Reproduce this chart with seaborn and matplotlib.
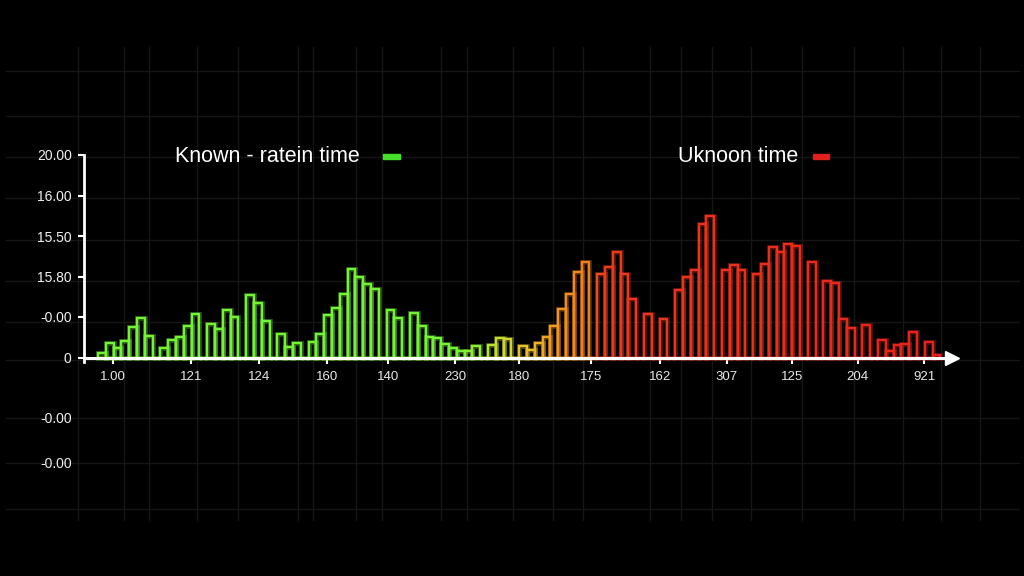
import numpy as np
import pandas as pd
import matplotlib
matplotlib.use("Agg")
import matplotlib.pyplot as plt
import matplotlib.patheffects as pe
from matplotlib.colors import LinearSegmentedColormap
from matplotlib.patches import Rectangle
import seaborn as sns

# ---------------- data ----------------
bar_heights = [
    0.12, 0.36, 0.24, 0.41, 0.75, 0.97, 0.53, 0.00, 0.24, 0.43,
    0.51, 0.77, 1.07, 0.00, 0.83, 0.70, 1.17, 1.00, 0.00, 1.55,
    1.35, 0.90, 0.00, 0.58, 0.27, 0.36, 0.00, 0.39, 0.59, 1.04,
    1.21, 1.56, 2.19, 1.98, 1.81, 1.69, 0.00, 1.17, 0.97, 0.00,
    1.10, 0.78, 0.51, 0.49, 0.33, 0.24, 0.15, 0.15, 0.28, 0.00,
    0.31, 0.49, 0.45, 0.00, 0.28, 0.19, 0.36, 0.50, 0.77, 1.20,
    1.57, 2.10, 2.36, 0.00, 2.05, 2.24, 2.60, 2.07, 1.44, 0.00,
    1.08, 0.00, 0.94, 0.00, 1.66, 2.00, 2.17, 3.29, 3.50, 0.00,
    2.15, 2.28, 2.17, 0.00, 2.07, 2.32, 2.74, 2.60, 2.81, 2.75,
    0.00, 2.37, 0.00, 1.88, 1.83, 0.94, 0.73, 0.00, 0.81, 0.00,
    0.43, 0.15, 0.32, 0.34, 0.63, 0.00, 0.39, 0.07,
]
x_tick_labels = ["1.00", "121", "124", "160", "140", "230", "180",
                 "175", "162", "307", "125", "204", "921"]
x_tick_values = [1.9, 11.9, 20.6, 29.4, 37.2, 45.8, 54.0,
                 63.2, 72.1, 80.6, 89.0, 97.4, 105.9]
y_tick_values = [-2.6, -1.49, 0, 1, 2, 3, 4, 5]
y_tick_labels = ["-0.00", "-0.00", "0", "-0.00", "15.80", "15.50", "16.00", "20.00"]
series_labels = ["Known - ratein time", "Uknoon time"]
series_colors = ["#46e028", "#e0201c"]

n = len(bar_heights)
df = pd.DataFrame({"slot": np.arange(n) + 0.5, "height": bar_heights})

# ---------------- style ----------------
sns.set_theme(style="dark", rc={
    "figure.facecolor": "black",
    "axes.facecolor": "none",
    "savefig.facecolor": "black",
    "text.color": "white",
})
plt.rcParams["font.family"] = ["Liberation Sans", "DejaVu Sans"]

W, H = 1024, 576
fig = plt.figure(figsize=(W / 100, H / 100), dpi=100, facecolor="black")

# background grid layer
bg = fig.add_axes([0, 0, 1, 1])
bg.set_facecolor("black")
bg.set_xlim(0, W)
bg.set_ylim(H, 0)
bg.axis("off")
grid_c = "#151715"
for gy in [71, 116, 157, 198, 240, 281, 322, 360, 418, 463, 509]:
    bg.plot([6, 1019], [gy, gy], color=grid_c, lw=1.0)
for gx in [78, 124, 149, 197, 238, 298, 313, 356, 382, 441, 467, 513, 553,
           583, 650, 681, 712, 751, 802, 854, 903, 941, 980]:
    bg.plot([gx, gx], [47, 520], color=grid_c, lw=1.0)

# main axes geometry (pixels)
slot_px = 7.8
x0_px = 98.0
left_px, right_px = 83.5, 952.0
zero_px, unit_px = 357.5, 40.5
ytop, ybot = 5.0, -2.8
top_px = zero_px - ytop * unit_px
bot_px = zero_px - ybot * unit_px
ax = fig.add_axes([left_px / W, 1 - bot_px / H,
                   (right_px - left_px) / W, (bot_px - top_px) / H])
ax.set_facecolor("none")

sns.histplot(data=df, x="slot", weights="height", binwidth=1, binrange=(0, n),
             fill=False, element="bars", linewidth=1.7, ax=ax, legend=False)

cmap = LinearSegmentedColormap.from_list("grad", [
    (0.00, "#74f238"),
    (0.43, "#74f238"),
    (0.47, "#b8e434"),
    (0.50, "#e6c82c"),
    (0.54, "#f09e24"),
    (0.58, "#f0801e"),
    (0.60, "#ec3a1e"),
    (1.00, "#e4221c"),
])
for i, p in enumerate(ax.patches):
    c = cmap((i + 0.5) / n)
    p.set_facecolor("none")
    p.set_edgecolor(c)
    p.set_linewidth(1.7)
    p.set_path_effects([pe.withStroke(linewidth=3.6, foreground=c, alpha=0.3)])

ax.set_xlim((left_px - x0_px) / slot_px, (right_px - x0_px) / slot_px)
ax.set_ylim(ybot, ytop)
ax.set_xlabel("")
ax.set_ylabel("")
ax.grid(False)

for s in ["top", "right"]:
    ax.spines[s].set_visible(False)
ax.spines["left"].set_color("white")
ax.spines["left"].set_linewidth(2.0)
ax.spines["left"].set_bounds(-0.12, ytop)
ax.spines["bottom"].set_position(("data", 0))
ax.spines["bottom"].set_color("white")
ax.spines["bottom"].set_linewidth(2.2)
ax.spines["bottom"].set_zorder(3)
ax.plot(1, 0, marker=">", ms=10, color="white",
        transform=ax.get_yaxis_transform(), clip_on=False, zorder=4)

ax.set_xticks(x_tick_values, labels=x_tick_labels)
ax.tick_params(axis="x", direction="out", length=4.5, width=1.5, colors="white",
               labelcolor="#e8e8e8", labelsize=9.5, pad=5, bottom=True)
ax.set_yticks(y_tick_values, labels=y_tick_labels)
ax.tick_params(axis="y", direction="out", length=4.5, width=1.5, colors="white",
               labelcolor="#f0f0f0", labelsize=10, pad=4, left=True)
for t, v in zip(ax.yaxis.get_major_ticks(), y_tick_values):
    if v < 0:
        t.tick1line.set_visible(False)

# legend-like labels
fig.text(175 / W, 1 - 157 / H, series_labels[0], color="white",
         fontsize=15.5, ha="left", va="center")
fig.patches.append(Rectangle((383 / W, 1 - 159 / H), 17 / W, 5 / H,
                             transform=fig.transFigure, color=series_colors[0]))
fig.text(678 / W, 1 - 157 / H, series_labels[1], color="white",
         fontsize=15.5, ha="left", va="center")
fig.patches.append(Rectangle((813 / W, 1 - 159 / H), 16 / W, 5 / H,
                             transform=fig.transFigure, color=series_colors[1]))

fig.savefig("out.png", dpi=100, facecolor="black")
